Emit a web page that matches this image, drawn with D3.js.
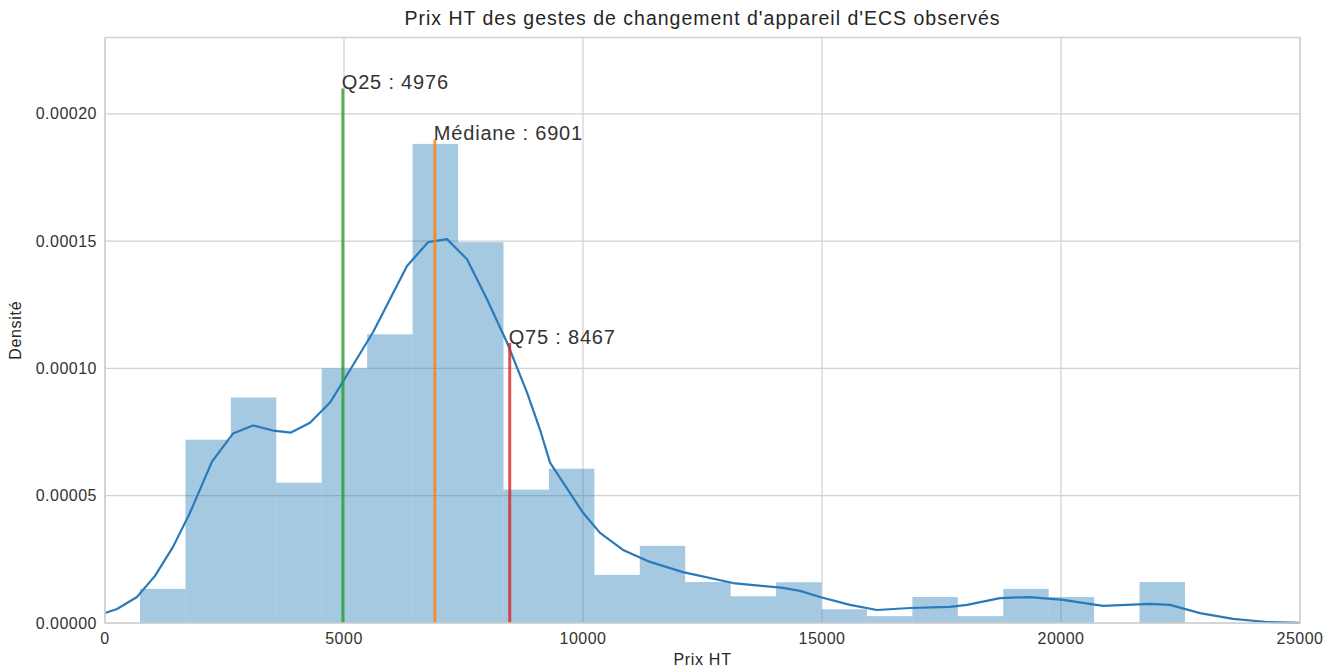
<!DOCTYPE html>
<html>
<head>
<meta charset="utf-8">
<script src="https://cdn.jsdelivr.net/npm/d3@7"></script>
<style>
  html, body { margin: 0; padding: 0; background: #fff; }
  svg { display: block; font-family: "Liberation Sans", Arial, sans-serif; }
</style>
</head>
<body>
<svg id="chart" width="1335" height="668"></svg>
<script>
// ---- data ----
const title = "Prix HT des gestes de changement d'appareil d'ECS observés";
const xLabel = "Prix HT";
const yLabel = "Densité";
const xTicks = [0, 5000, 10000, 15000, 20000, 25000];
const yTicks = [0, 0.00005, 0.00010, 0.00015, 0.00020];
const binMin = 732;
const binMax = 22594;
const histDensity = [1.34e-5, 7.2e-5, 8.86e-5, 5.51e-5, 1.0e-4, 1.134e-4, 1.882e-4, 1.496e-4,
  5.24e-5, 6.06e-5, 1.89e-5, 3.03e-5, 1.61e-5, 1.05e-5, 1.6e-5, 5.4e-6, 2.7e-6, 1.02e-5,
  2.7e-6, 1.34e-5, 1.02e-5, 0, 1.61e-5];
const kdeX = [0, 251, 669, 1046, 1423, 1778, 2238, 2678, 3096, 3515, 3891, 4289, 4707, 4916,
  5607, 6318, 6757, 7155, 7573, 7992, 8410, 8828, 9100, 9310, 10000, 10356, 10837, 11402,
  12092, 13138, 14184, 14540, 14958, 15586, 16151, 16841, 17678, 18033, 18724, 19351, 20042,
  20879, 21862, 22280, 22908, 23598, 24310, 25000];
const kdeY = [3.9e-6, 5.5e-6, 1.02e-5, 1.85e-5, 2.99e-5, 4.33e-5, 6.34e-5, 7.44e-5, 7.76e-5,
  7.56e-5, 7.48e-5, 7.87e-5, 8.66e-5, 9.29e-5, 1.142e-4, 1.402e-4, 1.496e-4, 1.508e-4,
  1.429e-4, 1.272e-4, 1.102e-4, 9.06e-5, 7.6e-5, 6.3e-5, 4.33e-5, 3.54e-5, 2.87e-5, 2.4e-5,
  2.0e-5, 1.57e-5, 1.38e-5, 1.26e-5, 1.02e-5, 7.1e-6, 5.1e-6, 5.9e-6, 6.3e-6, 7.1e-6,
  9.8e-6, 1.02e-5, 9.1e-6, 6.7e-6, 7.5e-6, 7.1e-6, 3.9e-6, 1.6e-6, 4e-7, 1e-7];
const quantNames = ["Q25", "Médiane", "Q75"];
const quantValues = [4976, 6901, 8467];
const quantHeights = [0.00021, 0.00019, 0.00011];
const quantColors = ["#2ca02c", "#ff7f0e", "#d62728"];

// ---- layout ----
const svg = d3.select("#chart");
const m = { left: 105, right: 35, top: 37.5, bottom: 45 };
const W = 1335, H = 668;
const x = d3.scaleLinear().domain([0, 25000]).range([m.left, W - m.right]);
const y = d3.scaleLinear().domain([0, 0.000230]).range([H - m.bottom, m.top]);
const textColor = "#262626";
const gridColor = "#d0d0d0";

// grid
svg.append("g").selectAll("line").data(yTicks).join("line")
  .attr("x1", x(0)).attr("x2", x(25000))
  .attr("y1", d => y(d)).attr("y2", d => y(d))
  .attr("stroke", gridColor).attr("stroke-width", 1.2);
svg.append("g").selectAll("line").data(xTicks).join("line")
  .attr("y1", y(0)).attr("y2", m.top)
  .attr("x1", d => x(d)).attr("x2", d => x(d))
  .attr("stroke", gridColor).attr("stroke-width", 1.2);

// histogram bars
const nb = histDensity.length;
const edges = d3.range(nb + 1).map(i => binMin + i * (binMax - binMin) / nb);
svg.append("g").selectAll("rect").data(histDensity).join("rect")
  .attr("x", (d, i) => x(edges[i]))
  .attr("width", (d, i) => x(edges[i + 1]) - x(edges[i]))
  .attr("y", d => y(d))
  .attr("height", d => y(0) - y(d))
  .attr("fill", "#1f77b4").attr("fill-opacity", 0.4);

// kde line
const kde = kdeX.map((v, i) => [v, kdeY[i]]);
svg.append("path").datum(kde)
  .attr("d", d3.line().x(d => x(d[0])).y(d => y(d[1])).curve(d3.curveLinear))
  .attr("fill", "none").attr("stroke", "#2a7ab9").attr("stroke-width", 2.2)
  .attr("stroke-linejoin", "round");

// quantile lines
const qg = svg.append("g");
quantValues.forEach((v, i) => {
  qg.append("line")
    .attr("x1", x(v)).attr("x2", x(v))
    .attr("y1", y(0)).attr("y2", y(quantHeights[i]))
    .attr("stroke", quantColors[i]).attr("stroke-width", 3).attr("stroke-opacity", 0.8);
  qg.append("text")
    .attr("x", x(v) - 1).attr("y", y(quantHeights[i]) + 1)
    .attr("font-size", 20).attr("letter-spacing", 0.8).attr("fill", "#333")
    .text(quantNames[i] + " : " + v);
});

// spines
svg.append("rect")
  .attr("x", x(0)).attr("y", m.top)
  .attr("width", x(25000) - x(0)).attr("height", y(0) - m.top)
  .attr("fill", "none").attr("stroke", gridColor).attr("stroke-width", 1.5);

// tick labels
svg.append("g").selectAll("text").data(xTicks).join("text")
  .attr("x", d => x(d)).attr("y", y(0) + 21)
  .attr("text-anchor", "middle").attr("font-size", 16).attr("letter-spacing", 0.5)
  .attr("fill", "#333")
  .text(d => d3.format("d")(d));
svg.append("g").selectAll("text").data(yTicks).join("text")
  .attr("x", x(0) - 8).attr("y", d => y(d)).attr("dy", "0.35em")
  .attr("text-anchor", "end").attr("font-size", 16).attr("letter-spacing", 0.5)
  .attr("fill", "#333")
  .text(d => d3.format(".5f")(d));

// labels
svg.append("text").attr("x", (x(0) + x(25000)) / 2).attr("y", 25)
  .attr("text-anchor", "middle").attr("font-size", 19.5).attr("letter-spacing", 1.0)
  .attr("fill", textColor).text(title);
svg.append("text").attr("x", (x(0) + x(25000)) / 2).attr("y", 665)
  .attr("text-anchor", "middle").attr("font-size", 16).attr("letter-spacing", 0.7)
  .attr("fill", textColor).text(xLabel);
svg.append("text").attr("transform", `translate(21, ${(y(0) + m.top) / 2}) rotate(-90)`)
  .attr("text-anchor", "middle").attr("font-size", 16).attr("letter-spacing", 0.7)
  .attr("fill", textColor).text(yLabel);
</script>
</body>
</html>
